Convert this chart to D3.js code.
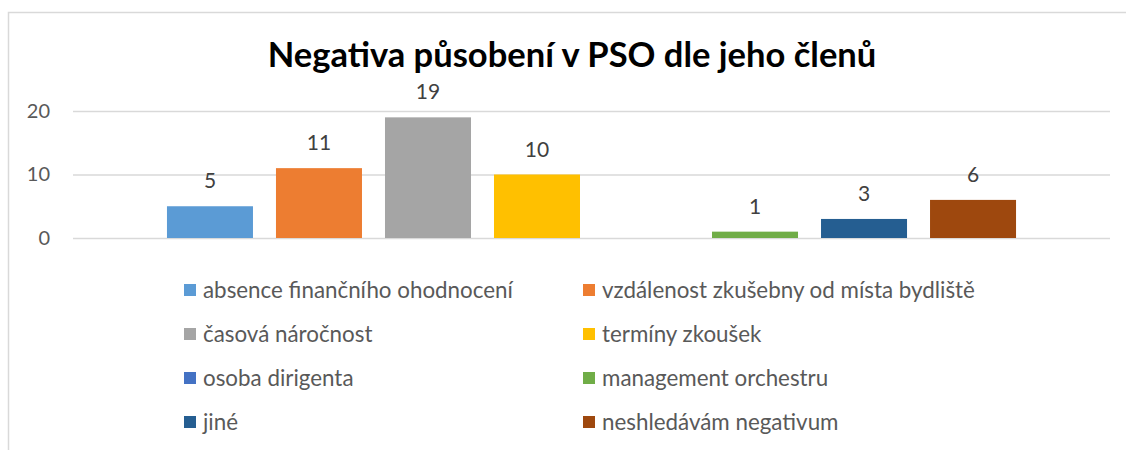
<html>
<head>
<meta charset="utf-8">
<script src="https://cdnjs.cloudflare.com/ajax/libs/d3/7.8.5/d3.min.js"></script>
<style>
  body { margin: 0; background: white; }
  text { font-family: Lato, "Open Sans", sans-serif; }
</style>
</head>
<body></body>
<script>
var title = "Negativa působení v PSO dle jeho členů";
var series = [
  "absence finančního ohodnocení",
  "vzdálenost zkušebny od místa bydliště",
  "časová náročnost",
  "termíny zkoušek",
  "osoba dirigenta",
  "management orchestru",
  "jiné",
  "neshledávám negativum"
];
var values = [5, 11, 19, 10, 0, 1, 3, 6];
var colors = ["#5B9BD5", "#ED7D31", "#A5A5A5", "#FFC000", "#4472C4", "#70AD47", "#255E91", "#9E480E"];
var yTicks = [0, 10, 20];

var screen = {width: 1126, height: 450};
var plot = {left: 73, right: 1110, top: 111, bottom: 238};

var rows = series.map(function(s, i) { return {name: s, value: values[i], color: colors[i]}; });

var svg = d3.select("body").append("svg")
  .attr("width", screen.width)
  .attr("height", screen.height);

// chart frame (only top and left edges are visible in the crop)
svg.append("path")
  .attr("d", "M8.5,450 L8.5,12.5 L1126,12.5")
  .attr("fill", "none")
  .attr("stroke", "#D9D9D9")
  .attr("stroke-width", 1.5);

// fit a text element to a target width
function fit(sel, target) {
  var size = parseFloat(sel.attr("font-size"));
  var w = sel.node().getComputedTextLength();
  sel.attr("font-size", size * target / w);
}

var t = svg.append("text")
  .attr("x", 572)
  .attr("y", 67)
  .attr("text-anchor", "middle")
  .attr("font-size", 28)
  .attr("font-weight", "bold")
  .attr("fill", "#000")
  .text(title);
fit(t, 609);

var y = d3.scaleLinear().domain([0, 20]).range([plot.bottom, plot.top]);
var x = d3.scaleBand().domain(series)
  .range([plot.left, plot.right])
  .paddingInner(0.211)
  .paddingOuter(0.862);

// gridlines
var grid = svg.append("g")
  .attr("transform", "translate(" + plot.left + ",0)")
  .call(d3.axisLeft(y).tickValues(yTicks).tickSize(-(plot.right - plot.left)).tickFormat(""));
grid.select(".domain").remove();
grid.selectAll("line").attr("stroke", "#D9D9D9").attr("stroke-width", 1.5);

// y axis labels
var ax = svg.append("g")
  .attr("transform", "translate(50,0)")
  .call(d3.axisLeft(y).tickValues(yTicks).tickSize(0).tickPadding(0));
ax.select(".domain").remove();
ax.selectAll("text")
  .attr("font-size", 20)
  .attr("fill", "#595959")
  .style("font-family", "Lato, 'Open Sans', sans-serif");

// bars
svg.selectAll("rect.bar").data(rows).enter().append("rect")
  .attr("class", "bar")
  .attr("x", function(d) { return x(d.name); })
  .attr("width", x.bandwidth())
  .attr("y", function(d) { return y(d.value); })
  .attr("height", function(d) { return y(0) - y(d.value); })
  .attr("fill", function(d) { return d.color; });

// value labels (no label for zero)
svg.selectAll("text.val").data(rows.filter(function(d) { return d.value > 0; }))
  .enter().append("text")
  .attr("class", "val")
  .attr("x", function(d) { return x(d.name) + x.bandwidth() / 2; })
  .attr("y", function(d) { return y(d.value) - 18; })
  .attr("text-anchor", "middle")
  .attr("font-size", 21)
  .attr("fill", "#404040")
  .text(function(d) { return d.value; });

// legend
var legCols = [184, 583];
var legRow0 = 290, legStep = 44;
var leg = svg.selectAll("g.leg").data(rows).enter().append("g")
  .attr("class", "leg")
  .attr("transform", function(d, i) {
    return "translate(" + legCols[i % 2] + "," + (legRow0 + Math.floor(i / 2) * legStep) + ")";
  });
leg.append("rect")
  .attr("x", 0).attr("y", -6)
  .attr("width", 12).attr("height", 12)
  .attr("fill", function(d) { return d.color; });
var legText = leg.append("text")
  .attr("x", 19)
  .attr("dy", "0.35em")
  .attr("font-size", 19)
  .attr("fill", "#595959")
  .text(function(d) { return d.name; });
var w0 = legText.nodes()[0].getComputedTextLength();
legText.attr("font-size", 19 * 310 / w0);
</script>
</html>
